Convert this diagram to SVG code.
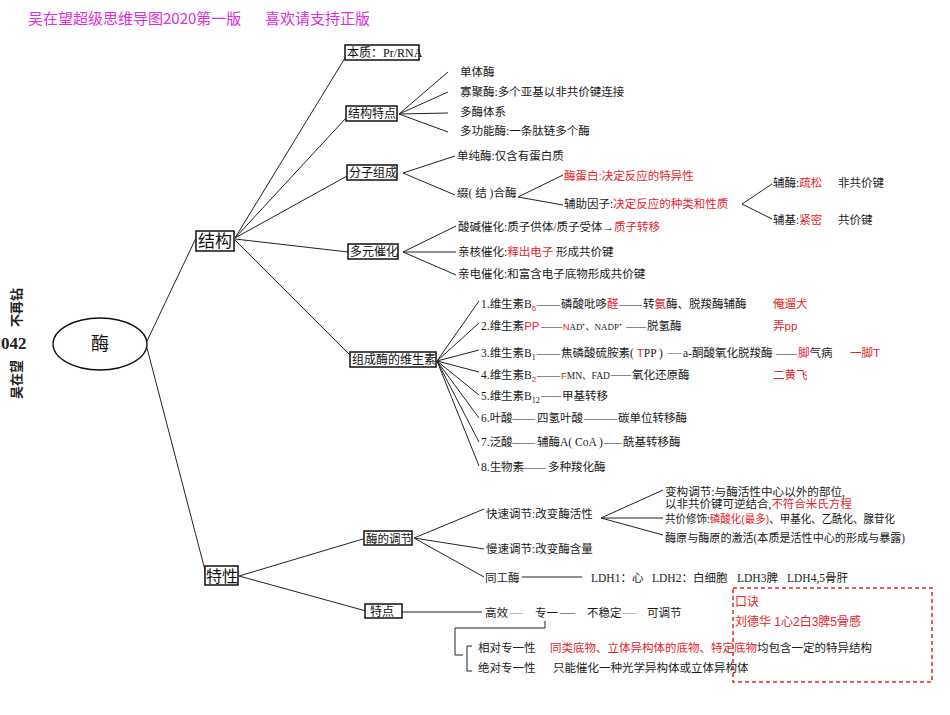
<svg xmlns="http://www.w3.org/2000/svg" width="950" height="715" viewBox="0 0 950 715">
<style>
.t{font-family:"Liberation Serif","Noto Sans CJK SC",serif;font-size:11.5px;fill:#1a1a1a}
.r{fill:#e3242b;font-family:"Liberation Sans","Noto Sans CJK SC",sans-serif}
.sub{font-size:8px}
.bt{font-family:"Liberation Serif","Noto Sans CJK SC",serif;font-size:12px;fill:#111}
.big{font-family:"Noto Sans CJK SC",sans-serif;font-size:16px;fill:#111}
.box{fill:#fff;stroke:#111;stroke-width:1.5}
.ln{stroke:#222;stroke-width:1;fill:none}
.h{font-family:"Noto Sans CJK SC",sans-serif;font-size:15px;fill:#e02cdc}
.side{font-family:"Noto Sans CJK SC",sans-serif;font-size:13px;font-weight:bold;fill:#222}
</style>
<rect width="950" height="715" fill="#fff"/>
<text class="h" x="28" y="24">吴在望超级思维导图2020第一版</text>
<text class="h" x="265" y="24">喜欢请支持正版</text>
<g id="side">
<text class="side" transform="translate(21,399) rotate(-90)">吴在望</text>
<text class="side" transform="translate(21,327) rotate(-90)">不再钻</text>
<text x="1" y="349" style="font-family:'Liberation Serif',serif;font-size:17px;font-weight:bold;fill:#222">042</text>
</g>
<g id="connectors">
<line class="ln" x1="147" y1="341" x2="196" y2="238"/>
<line class="ln" x1="147" y1="348" x2="206" y2="574"/>
<line class="ln" x1="235" y1="238" x2="345" y2="58"/>
<line class="ln" x1="235" y1="238" x2="346" y2="118"/>
<line class="ln" x1="235" y1="238" x2="347" y2="176"/>
<line class="ln" x1="235" y1="239" x2="348" y2="252"/>
<line class="ln" x1="235" y1="240" x2="351" y2="356"/>
<path class="ln" d="M448,72 L399,114 L448,92 M399,114 L448,113 M399,114 L448,132"/>
<path class="ln" d="M455,156 L403,173 L455,195"/>
<path class="ln" d="M563,175 L518,197 L563,205"/>
<path class="ln" d="M772,184 L742,204 L772,219"/>
<path class="ln" d="M456,226 L403,252 L456,252 M403,252 L456,275"/>
<path class="ln" d="M479,301 L437,361 L479,323 M437,361 L479,350 M437,361 L479,372 M437,361 L479,395 M437,361 L479,418 M437,361 L479,442 M437,361 L479,466"/>
<path class="ln" d="M363,539 L239,576 L366,611"/>
<path class="ln" d="M484,509 L414,538 L484,549 M414,538 L484,577"/>
<path class="ln" d="M663,490 L601,518 L663,518 M601,518 L663,535"/>
<line class="ln" x1="522" y1="577" x2="582" y2="577"/>
<line class="ln" x1="402" y1="612" x2="482" y2="612"/>
<path class="ln" d="M545,621 V628 H455 V655 H463"/>
<path class="ln" d="M472,646 H467 V671 H472"/>
</g>
<g id="root">
<ellipse cx="100" cy="344" rx="47" ry="26" fill="#fff" stroke="#111" stroke-width="1.3"/>
<text class="big" x="100" y="350" text-anchor="middle" style="font-size:18px">酶</text>
</g>
<g id="jiegou">
<rect class="box" x="196" y="231" width="38" height="20"/>
<text class="big" x="198" y="247" style="font-size:17px">结构</text>
</g>
<g id="texing">
<rect class="box" x="205" y="566" width="33" height="19"/>
<text class="big" x="206" y="582">特性</text>
</g>
<g id="benzhi">
<rect class="box" x="345" y="45" width="74" height="15"/>
<text class="bt" x="347" y="57">本质：Pr/RNA</text>
</g>
<g id="jiegoutedian">
<rect class="box" x="346" y="106" width="51" height="15"/>
<text class="bt" x="348" y="118">结构特点</text>
<text class="t" x="460" y="76">单体酶</text>
<text class="t" x="460" y="96">寡聚酶:多个亚基以非共价键连接</text>
<text class="t" x="460" y="116">多酶体系</text>
<text class="t" x="460" y="135">多功能酶:一条肽链多个酶</text>
</g>
<g id="fenzizucheng">
<rect class="box" x="347" y="165" width="50" height="15"/>
<text class="bt" x="349" y="177">分子组成</text>
<text class="t" x="457" y="160">单纯酶:仅含有蛋白质</text>
<text class="t" x="457" y="197">缀( 结 )合酶</text>
<text class="t" x="564" y="180"><tspan class="r">酶蛋白:决定反应的特异性</tspan></text>
<text class="t" x="564" y="208">辅助因子:<tspan class="r">决定反应的种类和性质</tspan></text>
<text class="t" x="773" y="187">辅酶:<tspan class="r">疏松</tspan></text>
<text class="t" x="838" y="187">非共价键</text>
<text class="t" x="773" y="224">辅基:<tspan class="r">紧密</tspan></text>
<text class="t" x="838" y="224">共价键</text>
</g>
<g id="duoyuancuihua">
<rect class="box" x="348" y="244" width="50" height="15"/>
<text class="bt" x="350" y="256">多元催化</text>
<text class="t" x="458" y="231">酸碱催化:质子供体/质子受体→<tspan class="r">质子转移</tspan></text>
<text class="t" x="458" y="256">亲核催化:<tspan class="r">释出电子</tspan> 形成共价键</text>
<text class="t" x="458" y="278">亲电催化:和富含电子底物形成共价键</text>
</g>
<g id="weishengsu">
<rect class="box" x="350" y="352" width="86" height="15"/>
<text class="bt" x="352" y="364">组成酶的维生素</text>
<text class="t" x="481" y="308">1.维生素B<tspan class="sub r" dy="3">6</tspan></text>
<text class="t" x="537" y="308">——</text>
<text class="t" x="561" y="308">磷酸吡哆<tspan class="r">醛</tspan></text>
<text class="t" x="619" y="308">——</text>
<text class="t" x="643" y="308">转<tspan class="r">氨</tspan>酶、脱羧酶辅酶</text>
<text class="t r" x="773" y="308">俺遛犬</text>
<text class="t" x="481" y="330">2.维生素<tspan class="r">PP</tspan></text>
<text class="t" x="541" y="330" style="font-size:10.5px">——</text>
<text class="t" x="563" y="330" style="font-size:9px"><tspan class="r">N</tspan>AD⁺、NADP⁺</text>
<text class="t" x="626" y="330" style="font-size:10px">——</text>
<text class="t" x="647" y="330">脱氢酶</text>
<text class="t r" x="773" y="330">弄pp</text>
<text class="t" x="481" y="357">3.维生素B<tspan class="sub" dy="3">1</tspan></text>
<text class="t" x="537" y="357">——</text>
<text class="t" x="561" y="357">焦磷酸硫胺素( <tspan class="r">T</tspan>PP )</text>
<text class="t" x="667" y="355" style="font-size:7.5px">——</text>
<text class="t" x="683" y="357">a-酮酸氧化脱羧酶</text>
<text class="t" x="776" y="357" style="font-size:10.5px">——</text>
<text class="t" x="798" y="357"><tspan class="r">脚</tspan>气病</text>
<text class="t r" x="850" y="357">一脚T</text>
<text class="t" x="481" y="379">4.维生素B<tspan class="sub r" dy="3">2</tspan></text>
<text class="t" x="537" y="379">——</text>
<text class="t" x="561" y="379" style="font-size:9.5px"><tspan class="r">F</tspan>MN、FAD</text>
<text class="t" x="611" y="378" style="font-size:10px">——</text>
<text class="t" x="632" y="379">氧化还原酶</text>
<text class="t r" x="773" y="379">二黄飞</text>
<text class="t" x="481" y="400">5.维生素B<tspan class="sub" dy="3">12</tspan></text>
<text class="t" x="541" y="399" style="font-size:10px">——</text>
<text class="t" x="562" y="400">甲基转移</text>
<text class="t" x="481" y="422">6.叶酸</text>
<text class="t" x="512" y="422">——</text>
<text class="t" x="537" y="422">四氢叶酸</text>
<text class="t" x="584" y="422" style="font-size:11px">———</text>
<text class="t" x="618" y="422">碳单位转移酶</text>
<text class="t" x="481" y="446">7.泛酸</text>
<text class="t" x="512" y="446">——</text>
<text class="t" x="537" y="446">辅酶A( CoA )</text>
<text class="t" x="604" y="445" style="font-size:9px">——</text>
<text class="t" x="623" y="446">酰基转移酶</text>
<text class="t" x="481" y="471">8.生物素</text>
<text class="t" x="523" y="471">——</text>
<text class="t" x="548" y="471">多种羧化酶</text>
</g>
<g id="meidetiaojie">
<rect class="box" x="364" y="531" width="48" height="14"/>
<text class="bt" x="366" y="543" style="font-size:11.5px">酶的调节</text>
<text class="t" x="486" y="518">快速调节:改变酶活性</text>
<text class="t" x="486" y="553">慢速调节:改变酶含量</text>
<text class="t" x="485" y="582">同工酶</text>
<text class="t" x="591" y="582">LDH1：心</text>
<text class="t" x="652" y="582">LDH2：白细胞</text>
<text class="t" x="737" y="582">LDH3脾</text>
<text class="t" x="787" y="582">LDH4,5骨肝</text>
<text class="t" x="665" y="496" textLength="180" lengthAdjust="spacingAndGlyphs">变构调节:与酶活性中心以外的部位,</text>
<text class="t" x="665" y="508">以非共价键可逆结合,<tspan class="r">不符合米氏方程</tspan></text>
<text class="t" x="665" y="523" textLength="230" lengthAdjust="spacingAndGlyphs">共价修饰:<tspan class="r">磷酸化(最多)</tspan>、甲基化、乙酰化、腺苷化</text>
<text class="t" x="665" y="542" textLength="240" lengthAdjust="spacingAndGlyphs">酶原与酶原的激活(本质是活性中心的形成与暴露)</text>
</g>
<g id="tedian">
<rect class="box" x="365" y="604" width="37" height="14"/>
<text class="bt" x="370" y="616">特点</text>
<text class="t" x="485" y="617">高效</text>
<text class="t" x="510" y="615" style="font-size:6.5px">——</text>
<text class="t" x="535" y="617">专一</text>
<text class="t" x="560" y="617" style="font-size:15px">—</text>
<text class="t" x="587" y="617">不稳定</text>
<text class="t" x="623" y="615" style="font-size:6.5px">——</text>
<text class="t" x="647" y="617">可调节</text>
<text class="t" x="478" y="652">相对专一性</text>
<text class="t" x="550" y="652"><tspan class="r">同类底物、立体异构体的底物、特定底物</tspan>均包含一定的特异结构</text>
<text class="t" x="478" y="672">绝对专一性</text>
<text class="t" x="553" y="672">只能催化一种光学异构体或立体异构体</text>
</g>
<g id="koujue">
<rect x="733" y="588" width="199" height="94" fill="none" stroke="#e3242b" stroke-width="1.5" stroke-dasharray="4,3"/>
<text class="t r" x="735" y="606" style="font-size:12px">口诀</text>
<text class="t r" x="735" y="626" style="font-size:12px">刘德华 1心2白3脾5骨感</text>
</g>
</svg>
